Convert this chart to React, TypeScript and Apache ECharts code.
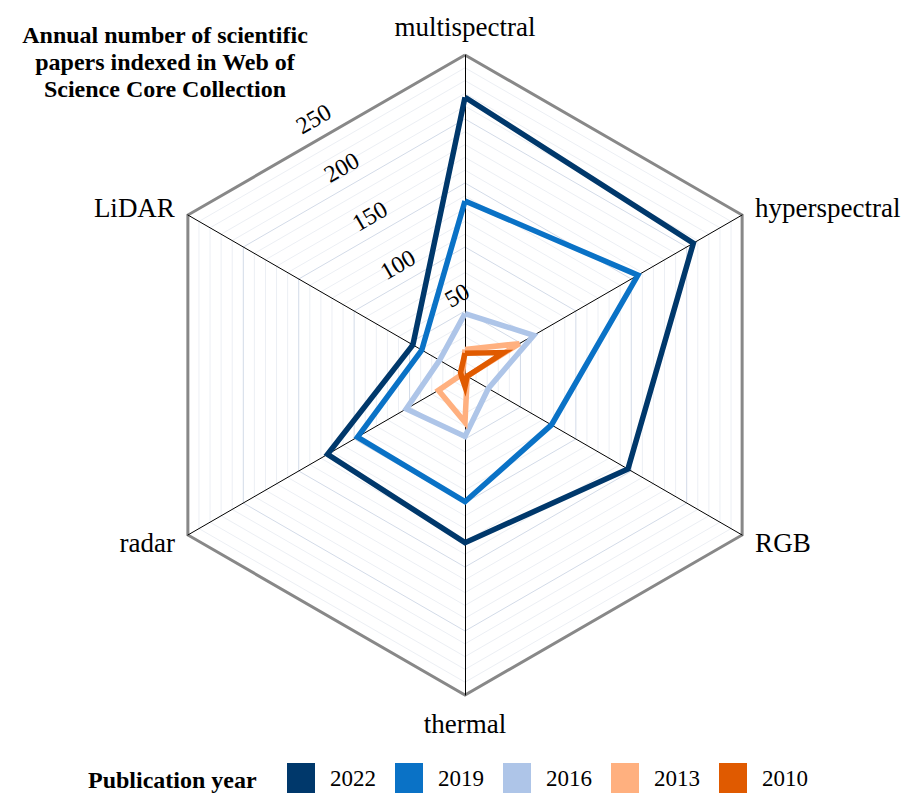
import React, { useEffect, useRef } from "react";
import * as echarts from "echarts";

const INDICATORS = ["multispectral", "LiDAR", "radar", "thermal", "RGB", "hyperspectral"];
const AXIS_MAX = 250;
const YEARS = ["2022", "2019", "2016", "2013", "2010"];
const COLORS = ["#00386b", "#0a72c6", "#aec5e8", "#ffb07f", "#e05a00"];
// order: multispectral, LiDAR, radar, thermal, RGB, hyperspectral
const V2022 = [217, 47, 124, 131, 147, 206];
const V2019 = [136, 39, 97, 99, 78, 156];
const V2016 = [48, 23, 53, 48, 21, 62];
const V2013 = [20, 2, 24, 37, 2, 49];
const V2010 = [17, 4, 3, 9, 2, 35];
const VALUES = [V2022, V2019, V2016, V2013, V2010];
const TICK_LABELS = [50, 100, 150, 200, 250];

const TITLE = "Annual number of scientific\npapers indexed in Web of\nScience Core Collection";
const LEGEND_TITLE = "Publication year";
const SERIF = "'Liberation Serif', 'DejaVu Serif', serif";

export default function App() {
  const ref = useRef<HTMLDivElement>(null);
  useEffect(() => {
    document.body.style.margin = "0";
    const chart = echarts.init(ref.current!, null, { renderer: "svg" });
    const major = "#d3dbe8";
    const minor = "#eceff4";
    chart.setOption({
      animation: false,
      backgroundColor: "#fff",
      title: [
        {
          text: TITLE,
          left: 160,
          top: 16,
          textAlign: "center",
          textStyle: { fontFamily: SERIF, fontSize: 24, fontWeight: "bold", color: "#000", lineHeight: 27 },
        },
        {
          text: LEGEND_TITLE,
          left: 83,
          top: 760,
          textStyle: { fontFamily: SERIF, fontSize: 24, fontWeight: "bold", color: "#000", lineHeight: 30 },
        },
      ],
      legend: {
        data: YEARS,
        left: 287,
        top: 763,
        padding: 0,
        icon: "rect",
        itemWidth: 28,
        itemHeight: 30,
        itemGap: 19,
        selectedMode: false,
        textStyle: { fontFamily: SERIF, fontSize: 23, color: "#000", padding: [0, 0, 0, 10] },
      },
      radar: [
        {
          indicator: INDICATORS.map((n) => ({ name: n, min: 0, max: AXIS_MAX })),
          center: [465, 375],
          radius: 320,
          startAngle: 90,
          shape: "polygon",
          splitNumber: 25,
          nameGap: 15,
          axisName: { color: "#000", fontFamily: SERIF, fontSize: 27 },
          axisLine: { show: true, lineStyle: { color: "#000", width: 1 } },
          axisTick: { show: false },
          axisLabel: { show: false },
          splitLine: { show: true, lineStyle: { color: [major, minor, minor, minor, minor], width: 1 } },
          splitArea: { show: false },
        },
        {
          indicator: INDICATORS.map(() => ({ name: "", min: 0, max: AXIS_MAX })),
          center: [465, 375],
          radius: 320,
          startAngle: 90,
          shape: "polygon",
          splitNumber: 1,
          axisName: { show: false },
          axisLine: { show: false },
          axisTick: { show: false },
          axisLabel: { show: false },
          splitLine: { show: true, lineStyle: { color: "#888888", width: 3 } },
          splitArea: { show: false },
          silent: true,
        },
      ],
      polar: { center: [465, 375], radius: 297.6 },
      angleAxis: { type: "value", startAngle: 120, min: 0, max: 360, show: false },
      radiusAxis: {
        type: "value",
        min: -15,
        max: AXIS_MAX,
        interval: 5,
        z: 10,
        axisLine: { show: false },
        axisTick: { show: false },
        splitLine: { show: false },
        axisLabel: {
          show: true,
          rotate: 30,
          margin: -15,
          fontFamily: SERIF,
          fontSize: 24,
          color: "#000",
          formatter: (v: number) =>
            v === TICK_LABELS[0] ? "{s|" + v + "}" : TICK_LABELS.indexOf(v) >= 0 ? String(v) : "",
          rich: {
            s: { fontFamily: SERIF, fontSize: 24, color: "#000", padding: [0, -30, 0, 0] },
          },
        },
      },
      series: [
        {
          type: "radar",
          radarIndex: 0,
          symbol: "none",
          z: 5,
          data: YEARS.map((y, i) => ({
            name: y,
            value: VALUES[i],
            itemStyle: { color: COLORS[i] },
            lineStyle: { color: COLORS[i], width: 5.5, join: "miter" },
          })),
        },
      ],
    });
    return () => chart.dispose();
  }, []);
  return <div ref={ref} style={{ width: 916, height: 796 }} />;
}
